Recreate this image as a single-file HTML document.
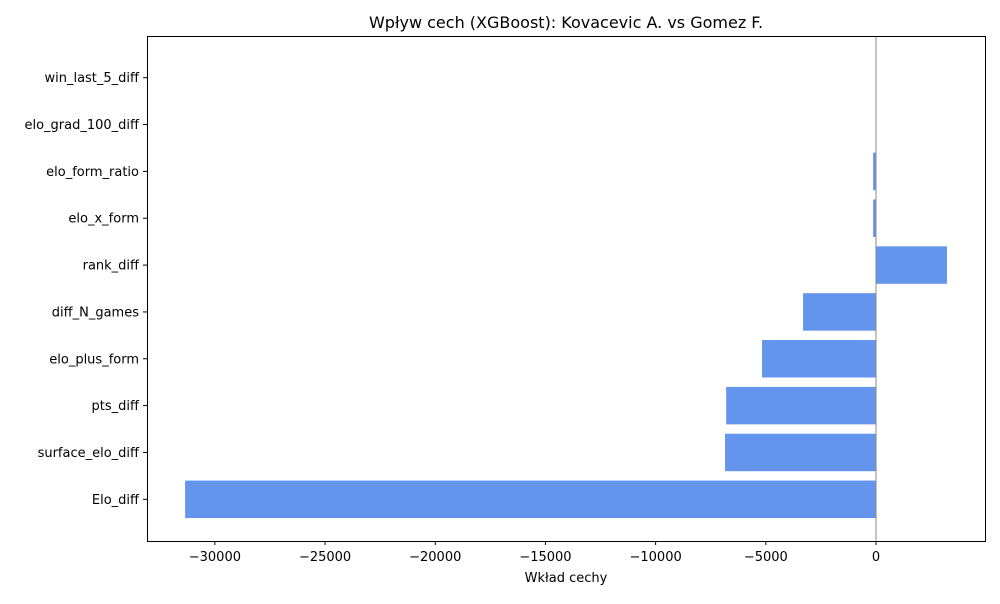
<!DOCTYPE html>
<html><head><meta charset="utf-8"><style>
body{margin:0;background:#fff;font-family:"DejaVu Sans","Liberation Sans",sans-serif}
</style></head><body>
<svg id="chart" width="1000" height="600" xmlns="http://www.w3.org/2000/svg">
<rect width="1000" height="600" fill="#fff"/>
<text x="566" y="28" font-size="16" text-anchor="middle">Wpływ cech (XGBoost): Kovacevic A. vs Gomez F.</text>
<text x="566" y="582" font-size="13" text-anchor="middle">Wkład cechy</text>
<g id="bars"></g><g id="ticks"></g>
<line x1="876" y1="36" x2="876" y2="541" stroke="#888" stroke-width="1" id="zeroline"/>
<rect x="147.5" y="36.5" width="838" height="505" fill="none" stroke="#000" stroke-width="1"/>
</svg>
<script>
const categories=["Elo_diff","surface_elo_diff","pts_diff","elo_plus_form","diff_N_games","rank_diff","elo_x_form","elo_form_ratio","elo_grad_100_diff","win_last_5_diff"];
const values=[-31350,-6850,-6800,-5170,-3310,3220,-130,-130,0,0];
const xTicks=[-30000,-25000,-20000,-15000,-10000,-5000,0];
const xTickLabels=["−30000","−25000","−20000","−15000","−10000","−5000","0"];
const L=147,R=985,T=36,B=541;
const xmin=-33080,xmax=4946,ymin=-0.89,ymax=9.89;
const sx=v=>L+(v-xmin)/(xmax-xmin)*(R-L);
const sy=i=>B-(i-ymin)/(ymax-ymin)*(B-T);
const NS="http://www.w3.org/2000/svg";
const bars=document.getElementById('bars'),ticks=document.getElementById('ticks');
const bh=0.8*(B-T)/(ymax-ymin);
categories.forEach((c,i)=>{
 const v=values[i];
 const r=document.createElementNS(NS,'rect');
 const x0=sx(Math.min(0,v)),x1=sx(Math.max(0,v));
 r.setAttribute('x',x0);r.setAttribute('width',Math.max(0,x1-x0));
 r.setAttribute('y',sy(i)-bh/2);r.setAttribute('height',bh);
 r.setAttribute('fill','#6495ed');
 
 
 bars.appendChild(r);
 const tk=document.createElementNS(NS,'line');
 tk.setAttribute('x1',L-4);tk.setAttribute('x2',L);tk.setAttribute('y1',sy(i));tk.setAttribute('y2',sy(i));tk.setAttribute('stroke','#000');
 
 
 ticks.appendChild(tk);
 const t=document.createElementNS(NS,'text');
 t.setAttribute('x',L-8);t.setAttribute('y',sy(i)+4.5);t.setAttribute('text-anchor','end');t.setAttribute('font-size','13');
 t.textContent=c;
 
 
 ticks.appendChild(t);
});
xTicks.forEach((v,i)=>{
 const x=sx(v);
 const tk=document.createElementNS(NS,'line');
 tk.setAttribute('x1',x);tk.setAttribute('x2',x);tk.setAttribute('y1',B);tk.setAttribute('y2',B+4);tk.setAttribute('stroke','#000');
 
 
 ticks.appendChild(tk);
 const t=document.createElementNS(NS,'text');
 t.setAttribute('x',x);t.setAttribute('y',B+20);t.setAttribute('text-anchor','middle');t.setAttribute('font-size','13');
 t.textContent=xTickLabels[i];
 
 
 ticks.appendChild(t);
});
const z=document.getElementById('zeroline');z.setAttribute('x1',sx(0));z.setAttribute('x2',sx(0));
</script>
</body></html>
